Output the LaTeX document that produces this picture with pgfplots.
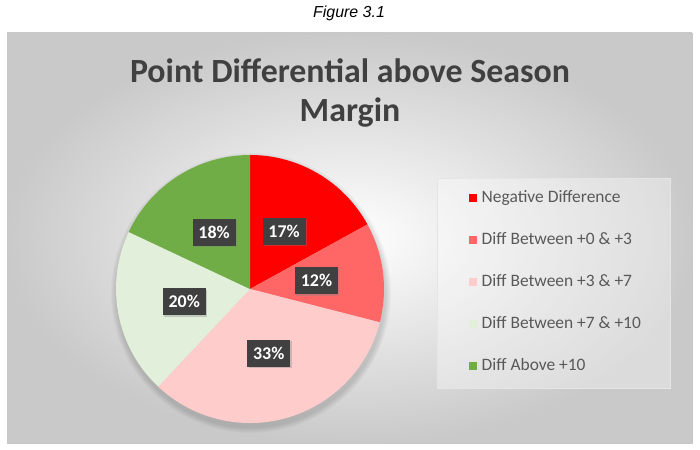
\documentclass[border=0pt]{standalone}
\usepackage{pgfplots}
\pgfplotsset{compat=1.18}
\usepackage{pgfplotstable}
\usepackage{fontspec}
\setmainfont{Carlito}
\newfontfamily\figfont{Liberation Sans}
\usetikzlibrary{shadows}

\definecolor{pieA}{HTML}{FF0000}
\definecolor{pieB}{HTML}{FF6666}
\definecolor{pieC}{HTML}{FFCCCC}
\definecolor{pieD}{HTML}{E2EFDA}
\definecolor{pieE}{HTML}{70AD47}
\definecolor{titlegray}{HTML}{404040}
\definecolor{leggray}{HTML}{595959}
\definecolor{lblgray}{HTML}{404040}

\tikzset{
  pie0/.style={fill=pieA},
  pie1/.style={fill=pieB},
  pie2/.style={fill=pieC},
  pie3/.style={fill=pieD},
  pie4/.style={fill=pieE},
  lbl/.style={fill=lblgray, text=white, font=\bfseries\fontsize{18}{20}\selectfont,
    minimum width=43bp, minimum height=27bp, inner sep=0pt,
    drop shadow={shadow xshift=1.5bp, shadow yshift=-1.5bp, opacity=0.35}},
}

% share of each slice, clockwise from 12 o'clock
\pgfplotstableread{
idx pct
0 17
1 12
2 33
3 20
4 18
}\piedata

% start / end angle of every slice
\xdef\pieangle{90}
\pgfplotsforeachungrouped \i in {0,...,4}{%
  \pgfplotstablegetelem{\i}{pct}\of\piedata
  \let\curpct\pgfplotsretval
  \pgfmathsetmacro\pieend{\pieangle-3.6*\curpct}%
  \expandafter\xdef\csname pies\i\endcsname{\pieangle}%
  \expandafter\xdef\csname piee\i\endcsname{\pieend}%
  \expandafter\xdef\csname piev\i\endcsname{\curpct}%
  \xdef\pieangle{\pieend}%
}

\begin{document}
\begin{tikzpicture}[x=1bp,y=1bp]
\useasboundingbox (0,0) rectangle (700,450);
\node[font=\figfont\itshape\fontsize{16}{18}\selectfont] at (349,437) {Figure 3.1};
\shade[inner color=white, outer color=black!21] (7,7) rectangle (692,417);
\draw[black!22] (7,7) rectangle (692,417);
\node[font=\bfseries\fontsize{34}{39}\selectfont, text=titlegray, align=center]
  at (350,357) {Point Differential above Season\\Margin};
% legend panel
\fill[white, fill opacity=0.35] (437,62) rectangle (670,272);
\draw[white!80!gray] (437,62) rectangle (670,272);
% soft shadow under the pie
\foreach \k in {1,...,6}
  \fill[black, opacity=0.025] (251,157) circle[radius=134+\k];

\begin{axis}[
  at={(250bp,161bp)}, anchor=center,
  scale only axis, width=268bp, height=268bp,
  xmin=-1, xmax=1, ymin=-1, ymax=1,
  hide axis, clip=false,
  legend cell align=left,
  legend style={at={(axis description cs:1.3172,0.8657)}, anchor=north west, draw=none, fill=none,
    font=\fontsize{17.5}{20}\selectfont, text=leggray,
    row sep=28bp, column sep=5bp, inner sep=0pt,
    nodes={inner sep=0pt, text height=11bp, text depth=3bp}},
  legend image code/.code={\fill[#1, draw=none] (0bp,-3.75bp) rectangle (7.5bp,3.75bp);},
]
\pgfplotsinvokeforeach{0,...,4}{
  \fill[pie#1] (axis cs:0,0)
    -- (axis cs:{cos(\csname pies#1\endcsname)},{sin(\csname pies#1\endcsname)})
    arc[start angle=\csname pies#1\endcsname, end angle=\csname piee#1\endcsname, radius=134bp]
    -- cycle;
}
\pgfplotsinvokeforeach{0,...,4}{
  \node[lbl] at (axis cs:{0.5*cos((\csname pies#1\endcsname+\csname piee#1\endcsname)/2)},
                 {0.5*sin((\csname pies#1\endcsname+\csname piee#1\endcsname)/2)})
    {\csname piev#1\endcsname\%};
}
\addlegendimage{pie0}\addlegendentry{Negative Difference}
\addlegendimage{pie1}\addlegendentry{Diff Between +0 \& +3}
\addlegendimage{pie2}\addlegendentry{Diff Between +3 \& +7}
\addlegendimage{pie3}\addlegendentry{Diff Between +7 \& +10}
\addlegendimage{pie4}\addlegendentry{Diff Above +10}
\end{axis}
\end{tikzpicture}
\end{document}
